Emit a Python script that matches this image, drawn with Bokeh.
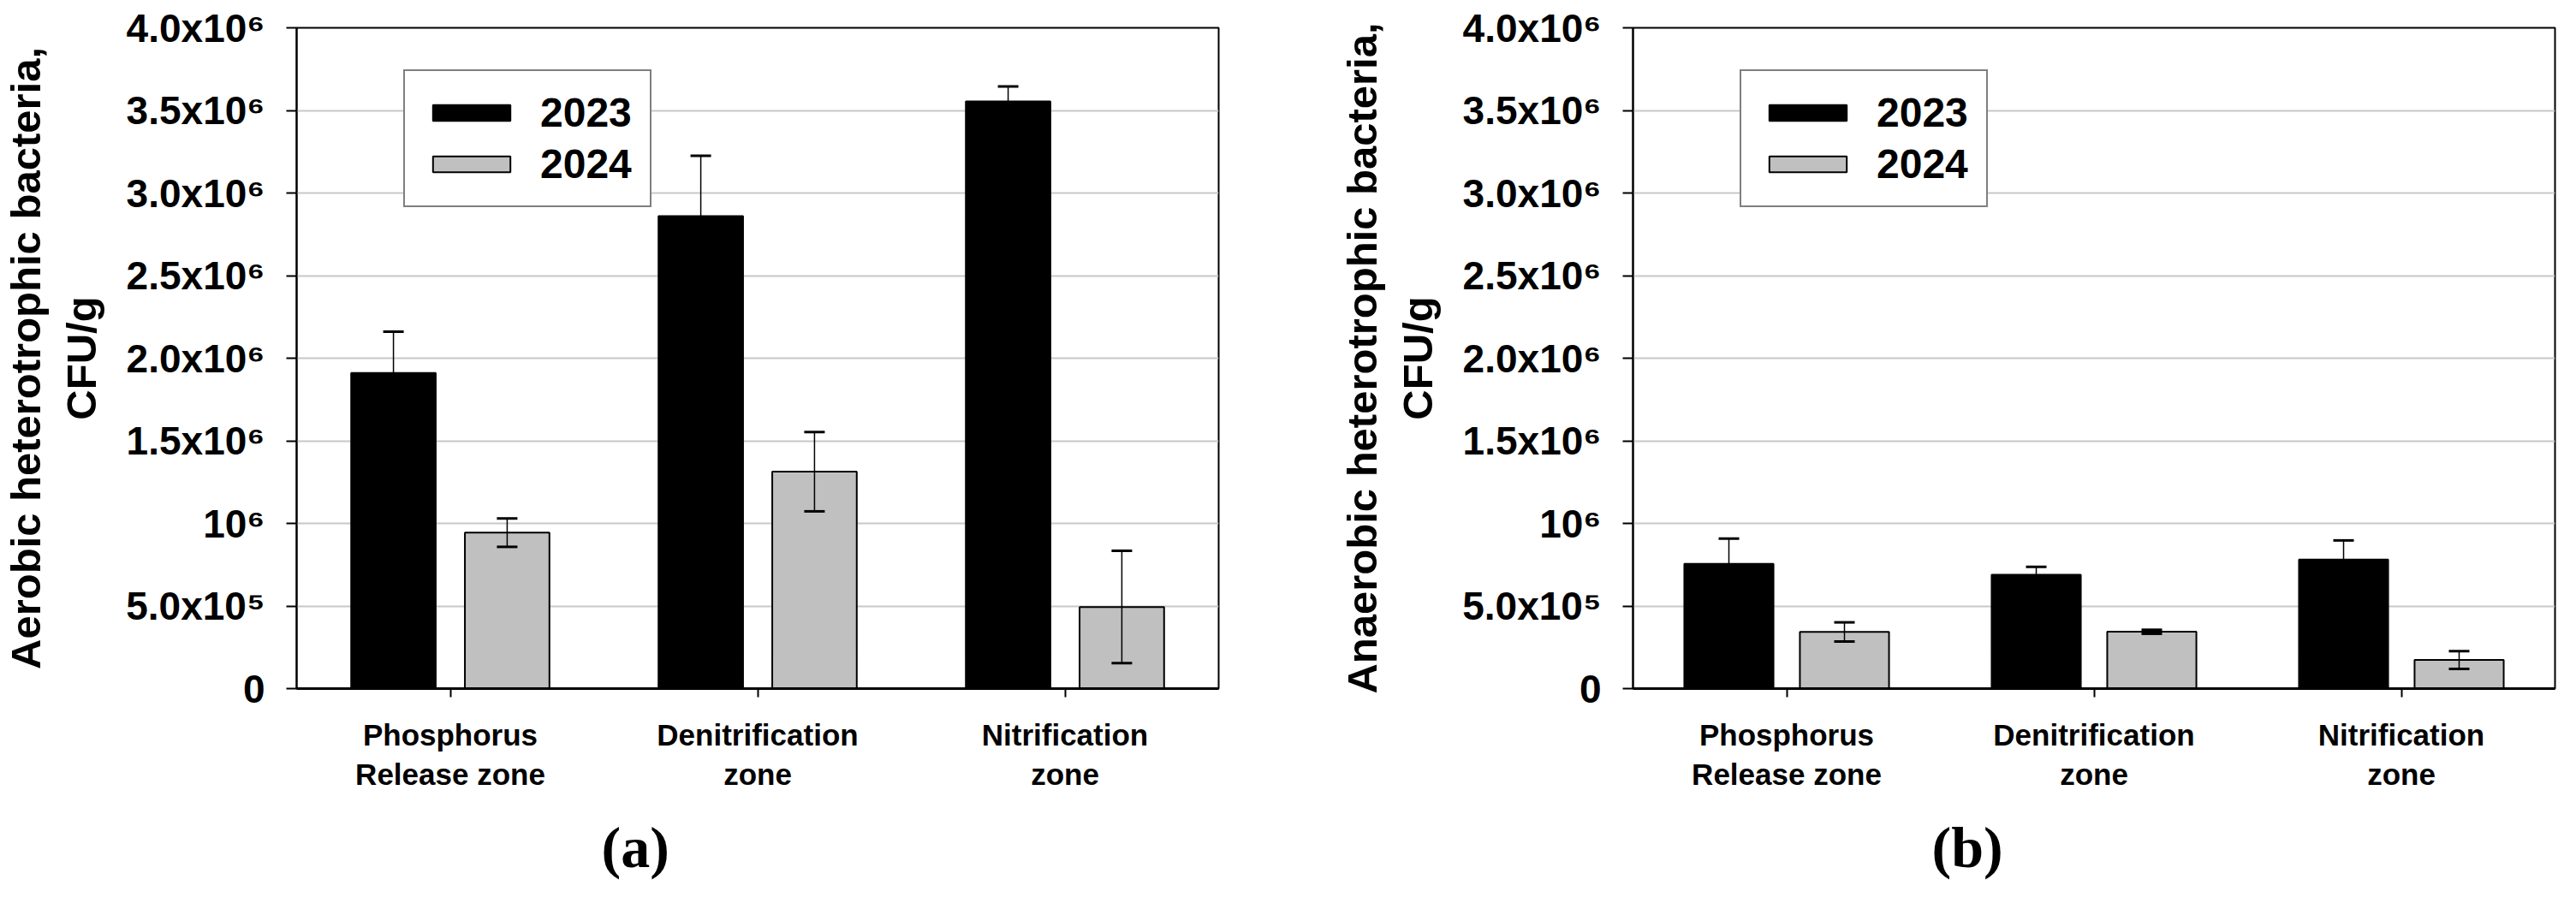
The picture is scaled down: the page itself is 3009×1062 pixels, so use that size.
from bokeh.plotting import figure
from bokeh.models import (FactorRange, Range1d, FixedTicker, Whisker, TeeHead,
                          Legend, LegendItem, Title, ColumnDataSource)
from bokeh.transform import dodge
from bokeh.layouts import row
from bokeh.embed import file_html
from bokeh.resources import INLINE

# ---------------- data ----------------
zones = ["Phosphorus\nRelease zone", "Denitrification\nzone", "Nitrification\nzone"]
series_names = ["2023", "2024"]

aerobic_2023 = [1910000, 2860000, 3555000]
aerobic_2023_err = [250000, 365000, 90000]
aerobic_2024 = [944000, 1313000, 494000]
aerobic_2024_err = [86000, 240000, 340000]

anaerobic_2023 = [755000, 689000, 781000]
anaerobic_2023_err = [153000, 48000, 116000]
anaerobic_2024 = [343000, 344000, 173000]
anaerobic_2024_err = [58000, 12000, 54000]

y_ticks = [0, 500000, 1000000, 1500000, 2000000, 2500000, 3000000, 3500000, 4000000]
y_tick_labels = ["0", "5.0x10\u2075", "10\u2076", "1.5x10\u2076", "2.0x10\u2076",
                 "2.5x10\u2076", "3.0x10\u2076", "3.5x10\u2076", "4.0x10\u2076"]

ylabel_a = "Aerobic heterotrophic bacteria,\nCFU/g"
ylabel_b = "Anaerobic heterotrophic bacteria,\nCFU/g"

FONT = "Liberation Sans"


def make_panel(ylabel, v23, e23, v24, e24, caption, border_left, border_right,
               bar_w, off, cap_offset):
    src = ColumnDataSource(dict(
        zone=zones, v23=v23, v24=v24,
        up23=[v + e for v, e in zip(v23, e23)], lo23=[v - e for v, e in zip(v23, e23)],
        up24=[v + e for v, e in zip(v24, e24)], lo24=[v - e for v, e in zip(v24, e24)],
    ))
    p = figure(x_range=FactorRange(factors=zones), y_range=Range1d(0, 4000000),
               frame_width=1077, frame_height=772,
               min_border_left=border_left, min_border_right=border_right,
               min_border_top=32, min_border_bottom=242,
               output_backend="svg", toolbar_location=None)
    p.background_fill_color = "white"
    p.border_fill_color = "white"
    p.outline_line_color = "black"
    p.outline_line_width = 2

    r23 = p.vbar(x=dodge("zone", -off, range=p.x_range), top="v23", width=bar_w,
                 source=src, fill_color="black", line_color="black", line_width=2)
    r24 = p.vbar(x=dodge("zone", off, range=p.x_range), top="v24", width=bar_w,
                 source=src, fill_color="#c0c0c0", line_color="black", line_width=2)

    for key, o in (("23", -off), ("24", off)):
        w = Whisker(source=src, base=dodge("zone", o, range=p.x_range),
                    upper="up" + key, lower="lo" + key, dimension="height",
                    line_color="black", line_width=1.5,
                    upper_head=TeeHead(size=24, line_color="black", line_width=3),
                    lower_head=TeeHead(size=24, line_color="black", line_width=3),
                    level="annotation")
        p.add_layout(w)

    legend = Legend(items=[LegendItem(label=series_names[0], renderers=[r23]),
                           LegendItem(label=series_names[1], renderers=[r24])],
                    location=(125, 562), margin=0, padding=21, spacing=5,
                    glyph_width=113, glyph_height=23, label_standoff=24,
                    label_text_font=FONT, label_text_font_style="bold",
                    label_text_font_size="48px", label_text_color="black",
                    border_line_color="black", border_line_width=2,
                    background_fill_color="white", background_fill_alpha=1.0)
    p.add_layout(legend)

    # y axis
    p.yaxis.ticker = FixedTicker(ticks=y_ticks)
    p.yaxis.major_label_overrides = dict(zip(y_ticks, y_tick_labels))
    p.yaxis.major_label_text_font = FONT
    p.yaxis.major_label_text_font_style = "bold"
    p.yaxis.major_label_text_font_size = "46px"
    p.yaxis.major_label_text_color = "black"
    p.yaxis.major_label_standoff = 25
    p.yaxis.major_tick_out = 12
    p.yaxis.major_tick_in = 0
    p.yaxis.major_tick_line_width = 2
    p.yaxis.major_tick_line_color = "black"
    p.yaxis.minor_tick_line_color = None
    p.yaxis.axis_line_width = 2
    p.yaxis.axis_line_color = "black"
    p.yaxis.axis_label = ylabel
    p.yaxis.axis_label_text_font = FONT
    p.yaxis.axis_label_text_font_style = "bold"
    p.yaxis.axis_label_text_font_size = "49px"
    p.yaxis.axis_label_text_color = "black"
    p.yaxis.axis_label_standoff = 22

    # x axis
    p.xaxis.major_label_text_font = FONT
    p.xaxis.major_label_text_font_style = "bold"
    p.xaxis.major_label_text_font_size = "35px"
    p.xaxis.major_label_text_color = "black"
    p.xaxis.major_label_standoff = 24
    p.xaxis.major_tick_out = 10
    p.xaxis.major_tick_in = 0
    p.xaxis.major_tick_line_width = 2
    p.xaxis.major_tick_line_color = "black"
    p.xaxis.axis_line_width = 3
    p.xaxis.axis_line_color = "black"

    p.xgrid.grid_line_color = None
    p.ygrid.grid_line_color = "#c8c8c8"
    p.ygrid.grid_line_width = 2

    p.add_layout(Title(text=caption, align="left", offset=cap_offset, standoff=44,
                       text_font="Liberation Serif", text_font_style="bold",
                       text_font_size="68px", text_color="black"), "below")
    return p


p1 = make_panel(ylabel_a, aerobic_2023, aerobic_2023_err, aerobic_2024, aerobic_2024_err,
                "(a)", 339, 116, 0.275, 0.185, 356)
p2 = make_panel(ylabel_b, anaerobic_2023, anaerobic_2023_err, anaerobic_2024, anaerobic_2024_err,
                "(b)", 368, 16, 0.29, 0.188, 349)

layout = row(p1, p2)
open("out.html", "w").write(file_html(layout, INLINE))
